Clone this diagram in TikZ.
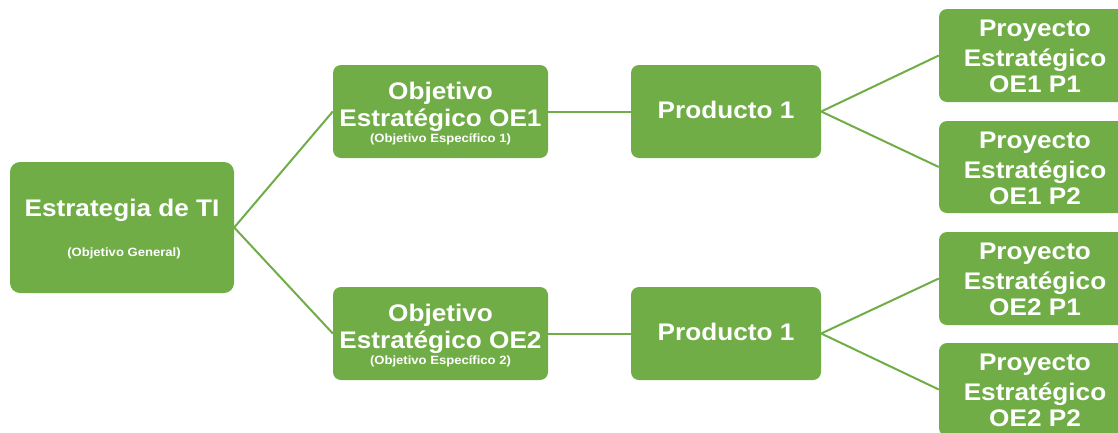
\documentclass[tikz,border=0pt]{standalone}
\usepackage{fontspec}
\setmainfont{Liberation Sans}[FakeStretch=1.09]
\definecolor{og}{HTML}{70AD47}
\begin{document}
\begin{tikzpicture}[x=1pt,y=-1pt,
  box/.style={fill=og,draw=none,rounded corners=8pt,inner sep=0pt,minimum width=#1},
  box/.default=190pt,
  big/.style={text=white,inner sep=0pt,anchor=base,font=\fontsize{24}{28}\selectfont\bfseries},
  small/.style={text=white,inner sep=0pt,anchor=base,font=\fontsize{12}{14}\selectfont\bfseries},
  conn/.style={draw=og,line width=2pt}]
\useasboundingbox (0,0) rectangle (1118,432);
\clip (0,0) rectangle (1118,432);
% boxes
\node[box=224pt,minimum height=131pt,rounded corners=10pt] (root) at (122,227.5) {};
\node[box=215pt,minimum height=93pt] (oe1) at (440.5,111.5) {};
\node[box=215pt,minimum height=93pt] (oe2) at (440.5,333.5) {};
\node[box,minimum height=93pt] (pa) at (726,111.5) {};
\node[box,minimum height=93pt] (pb) at (726,333.5) {};
\node[box,minimum height=93pt] (pr1) at (1034,55.5) {};
\node[box,minimum height=92pt] (pr2) at (1034,167) {};
\node[box,minimum height=93pt] (pr3) at (1034,278.5) {};
\node[box,minimum height=93pt] (pr4) at (1034,389.5) {};
% connectors
\draw[conn] (root.east) -- (oe1.west);
\draw[conn] (root.east) -- (oe2.west);
\draw[conn] (oe1.east) -- (pa.west);
\draw[conn] (oe2.east) -- (pb.west);
\draw[conn] (pa.east) -- (pr1.west);
\draw[conn] (pa.east) -- (pr2.west);
\draw[conn] (pb.east) -- (pr3.west);
\draw[conn] (pb.east) -- (pr4.west);
% texts
\node[big] (roott) at (122,216) {Estrategia de TI};
\node[small] (roots) at (124,256) {(Objetivo General)};
\node[big] (oe1a) at (440.5,99.3) {Objetivo};
\node[big] (oe1b) at (440.5,126.7) {Estratégico OE1};
\node[small] (oe1c) at (440.5,142.7) {(Objetivo Específico 1)};
\node[big] (oe2a) at (440.5,321.3) {Objetivo};
\node[big] (oe2b) at (440.5,348.7) {Estratégico OE2};
\node[small] (oe2c) at (440.5,364.7) {(Objetivo Específico 2)};
\node[big] (pat) at (726,118.3) {Producto 1};
\node[big] (pbt) at (726,340.3) {Producto 1};
\node[big] (pr1a) at (1035,36.7) {Proyecto};
\node[big] (pr1b) at (1035,66) {Estratégico};
\node[big] (pr1c) at (1035,92.7) {OE1 P1};
\node[big] (pr2a) at (1035,148.7) {Proyecto};
\node[big] (pr2b) at (1035,178) {Estratégico};
\node[big] (pr2c) at (1035,204.7) {OE1 P2};
\node[big] (pr3a) at (1035,259.7) {Proyecto};
\node[big] (pr3b) at (1035,289) {Estratégico};
\node[big] (pr3c) at (1035,315.7) {OE2 P1};
\node[big] (pr4a) at (1035,370.7) {Proyecto};
\node[big] (pr4b) at (1035,400) {Estratégico};
\node[big] (pr4c) at (1035,426.7) {OE2 P2};
\end{tikzpicture}
\end{document}
